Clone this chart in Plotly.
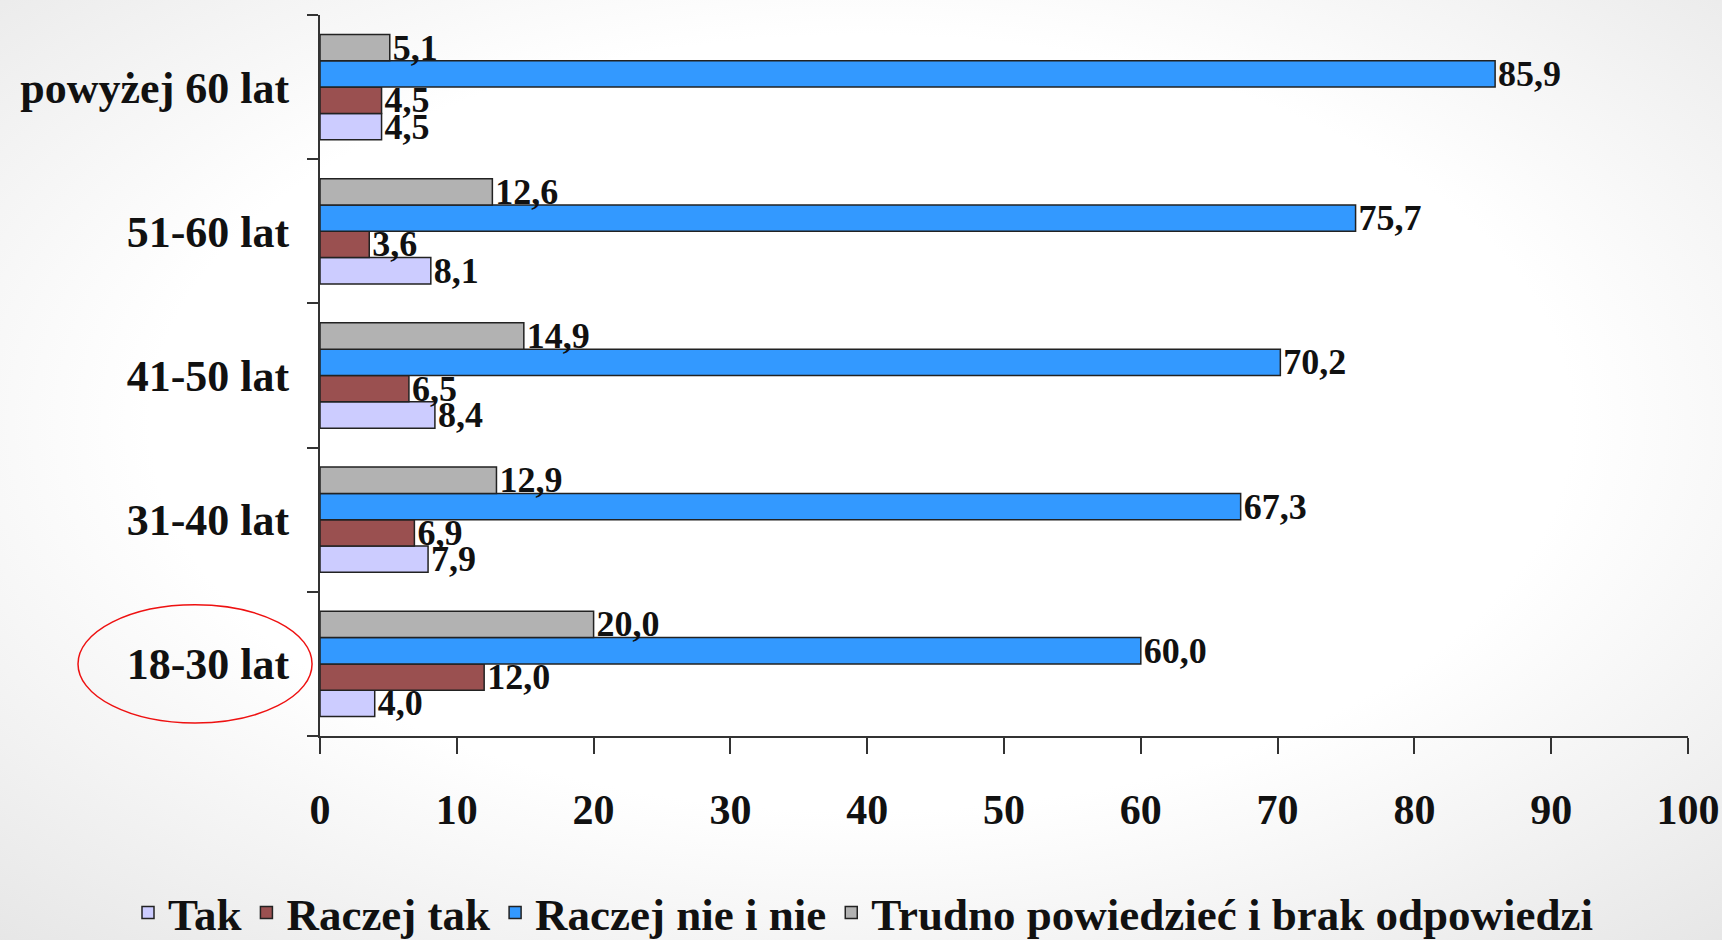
import plotly.graph_objects as go
import base64

categories = ["18-30 lat", "31-40 lat", "41-50 lat", "51-60 lat", "powyżej 60 lat"]
series_names = ["Tak", "Raczej tak", "Raczej nie i nie", "Trudno powiedzieć i brak odpowiedzi"]
tak = [4.0, 7.9, 8.4, 8.1, 4.5]
raczej_tak = [12.0, 6.9, 6.5, 3.6, 4.5]
raczej_nie = [60.0, 67.3, 70.2, 75.7, 85.9]
trudno = [20.0, 12.9, 14.9, 12.6, 5.1]
x_ticks = [0, 10, 20, 30, 40, 50, 60, 70, 80, 90, 100]

colors = ["#CCCCFF", "#9A5050", "#3399FF", "#B2B2B2"]
FONT = "Liberation Serif"

fig = go.Figure()
for name, vals, col in zip(series_names, [tak, raczej_tak, raczej_nie, trudno], colors):
    fig.add_trace(go.Bar(
        y=categories, x=vals, name=name, orientation="h",
        marker=dict(color=col, line=dict(color="#222222", width=1.5)),
        texttemplate="%{x:.1f}", textposition="outside",
        constraintext="none", cliponaxis=False,
        textfont=dict(family=FONT, size=36, color="#111111", weight="bold"),
    ))

svg = ('<svg xmlns="http://www.w3.org/2000/svg" width="1722" height="940">'
       '<defs><radialGradient id="g" cx="50%" cy="45%" r="75%">'
       '<stop offset="0%" stop-color="#ffffff"/><stop offset="55%" stop-color="#ffffff"/>'
       '<stop offset="100%" stop-color="#e6e6e6"/></radialGradient></defs>'
       '<rect width="1722" height="940" fill="url(#g)"/></svg>')
src = "data:image/svg+xml;base64," + base64.b64encode(svg.encode()).decode()

fig.update_layout(
    width=1722, height=940,
    barmode="group", bargap=0.27, bargroupgap=0,
    separators=", ",
    paper_bgcolor="#ffffff", plot_bgcolor="rgba(0,0,0,0)",
    margin=dict(l=320, r=34, t=15, b=204, autoexpand=False),
    font=dict(family=FONT, color="#111111", weight="bold"),
    showlegend=True,
    legend=dict(orientation="h", x=(128 - 320) / 1368, xanchor="left", xref="paper",
                y=-0.245, yanchor="middle", bgcolor="rgba(0,0,0,0)",
                font=dict(family=FONT, size=45, color="#111111", weight="bold"),
                tracegroupgap=0, traceorder="normal"),
    images=[dict(source=src, xref="paper", yref="paper", x=-320/1368, y=1 + 15/721,
                 sizex=1722/1368, sizey=940/721, sizing="stretch",
                 xanchor="left", yanchor="top", layer="below")],
    shapes=[dict(type="circle", xref="paper", yref="y",
                 x0=-0.1769, x1=-0.0058, y0=-0.41, y1=0.41,
                 line=dict(color="#EE1111", width=1.5))],
)
fig.update_xaxes(range=[0, 100], tickvals=x_ticks, showgrid=False, zeroline=False,
                 automargin=False,
                 showline=True, linecolor="#333333", linewidth=2,
                 ticks="outside", ticklen=16, tickwidth=1.5, tickcolor="#333333",
                 ticklabelstandoff=20,
                 tickfont=dict(family=FONT, size=42, color="#111111", weight="bold"))
fig.update_yaxes(range=[-0.5, 4.5], showgrid=False, zeroline=False,
                 automargin=False,
                 showline=True, linecolor="#333333", linewidth=2,
                 ticks="outside", ticklen=11, tickwidth=1.5, tickcolor="#333333",
                 tickson="boundaries", ticklabelstandoff=20,
                 tickfont=dict(family=FONT, size=44, color="#111111", weight="bold"))

fig.write_html("out.html", config={"displayModeBar": False},
               post_script="document.body.style.margin='0';document.body.style.overflow='hidden';")
